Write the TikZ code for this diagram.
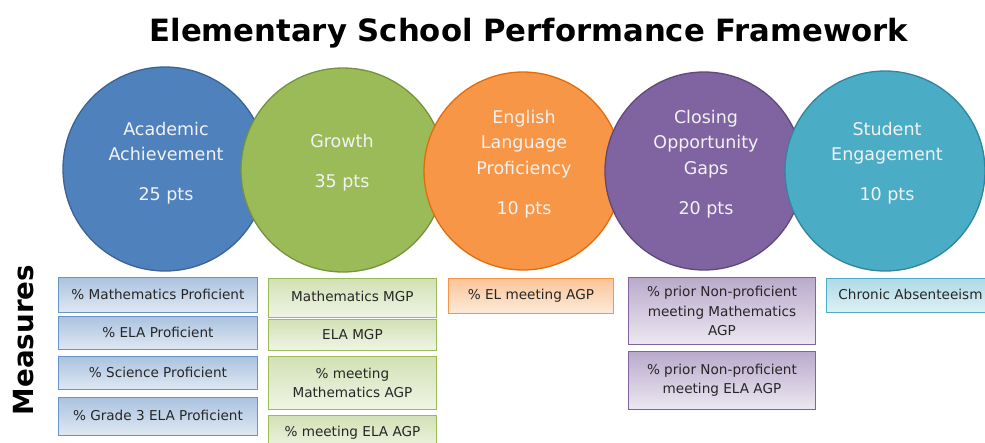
\documentclass[tikz,border=0pt]{standalone}
\usepackage{fontspec}
\setmainfont{DejaVu Sans}
\definecolor{cBlue}{HTML}{4F81BD}
\definecolor{cBlueD}{HTML}{3A6496}
\definecolor{cGreen}{HTML}{9BBB59}
\definecolor{cGreenD}{HTML}{76923C}
\definecolor{cOrange}{HTML}{F79646}
\definecolor{cOrangeD}{HTML}{E36C09}
\definecolor{cPurple}{HTML}{8064A2}
\definecolor{cPurpleD}{HTML}{5F497A}
\definecolor{cTeal}{HTML}{4BACC6}
\definecolor{cTealD}{HTML}{31859C}
\definecolor{ctxt}{HTML}{F2F2F2}
\definecolor{boxtxt}{HTML}{262626}
\begin{document}
\begin{tikzpicture}[x=1pt,y=-1pt,
  circ/.style={circle, inner sep=0pt, line width=1.3pt},
  ctext/.style={text=ctxt, align=center, inner sep=0pt, font=\fontsize{17.5}{25.5}\selectfont},
  mbox/.style={draw, line width=0.9pt, anchor=north west, inner sep=0pt, align=center,
    font=\fontsize{13.6}{19.5}\selectfont, text=boxtxt},
  bluebox/.style={mbox, draw=cBlue!85, top color=cBlue!48, bottom color=cBlue!18},
  greenbox/.style={mbox, draw=cGreen, top color=cGreen!45, bottom color=cGreen!15},
  orangebox/.style={mbox, draw=cOrange, top color=cOrange!55, bottom color=cOrange!20},
  purplebox/.style={mbox, draw=cPurple, top color=cPurple!55, bottom color=cPurple!15},
  tealbox/.style={mbox, draw=cTeal, top color=cTeal!45, bottom color=cTeal!18}
]
\useasboundingbox (0,0) rectangle (985,442);
\fill[white] (0,0) rectangle (985,442);

% title
\node[anchor=base, inner sep=0pt, font=\fontsize{30.7}{36}\selectfont\bfseries] (title) at (529,41)
  {Elementary School Performance Framework};

% circles
\node[circ, minimum size=204pt, fill=cBlue, draw=cBlueD] (c1) at (165,169) {};
\node[circ, minimum size=204pt, fill=cGreen, draw=cGreenD] (c2) at (343,170) {};
\node[circ, minimum size=198pt, fill=cOrange, draw=cOrangeD] (c3) at (523,171) {};
\node[circ, minimum size=198pt, fill=cPurple, draw=cPurpleD] (c4) at (704,171) {};
\node[circ, minimum size=200pt, fill=cTeal, draw=cTealD] (c5) at (885,171) {};

\node[ctext] (t1) at (166,163) {Academic\\Achievement\\[14.5pt]25 pts};
\node[ctext] (t2) at (342,163) {Growth\\[14.5pt]35 pts};
\node[ctext] (t3) at (524,164) {English\\Language\\Proficiency\\[14.5pt]10 pts};
\node[ctext] (t4) at (706,164) {Closing\\Opportunity\\Gaps\\[14.5pt]20 pts};
\node[ctext] (t5) at (887,163) {Student\\Engagement\\[14.5pt]10 pts};

% Measures label
\node[anchor=base, rotate=90, inner sep=0pt, font=\fontsize{27.7}{30}\selectfont\bfseries] (meas) at (33,340) {Measures};

% column 1
\node[bluebox, minimum width=199pt, minimum height=35pt] (b11) at (58,277) {\raisebox{2pt}{\% Mathematics Proficient}};
\node[bluebox, minimum width=199pt, minimum height=33pt] (b12) at (58,316) {\raisebox{1pt}{\% ELA Proficient}};
\node[bluebox, minimum width=199pt, minimum height=33pt] (b13) at (58,356) {\raisebox{1pt}{\% Science Proficient}};
\node[bluebox, minimum width=199pt, minimum height=38pt] (b14) at (58,397) {\raisebox{2pt}{\% Grade 3 ELA Proficient}};

% column 2
\node[greenbox, minimum width=168pt, minimum height=39pt] (b21) at (268,278) {\raisebox{4pt}{Mathematics MGP}};
\node[greenbox, minimum width=168pt, minimum height=31pt] (b22) at (268,319) {\raisebox{1pt}{ELA MGP}};
\node[greenbox, minimum width=168pt, minimum height=53pt] (b23) at (268,356) {\% meeting\\Mathematics AGP};
\node[greenbox, minimum width=168pt, minimum height=35pt] (b24) at (268,415) {\% meeting ELA AGP};

% column 3
\node[orangebox, minimum width=165pt, minimum height=35pt] (b31) at (448,278) {\raisebox{2pt}{\% EL meeting AGP}};

% column 4
\node[purplebox, minimum width=187pt, minimum height=67pt] (b41) at (628,277) {\% prior Non-proficient\\meeting Mathematics\\AGP};
\node[purplebox, minimum width=187pt, minimum height=58pt] (b42) at (628,351) {\% prior Non-proficient\\meeting ELA AGP};

% column 5
\node[tealbox, minimum width=168pt, minimum height=34pt] (b51) at (826,278) {\raisebox{2pt}{Chronic Absenteeism}};
\end{tikzpicture}
\end{document}
